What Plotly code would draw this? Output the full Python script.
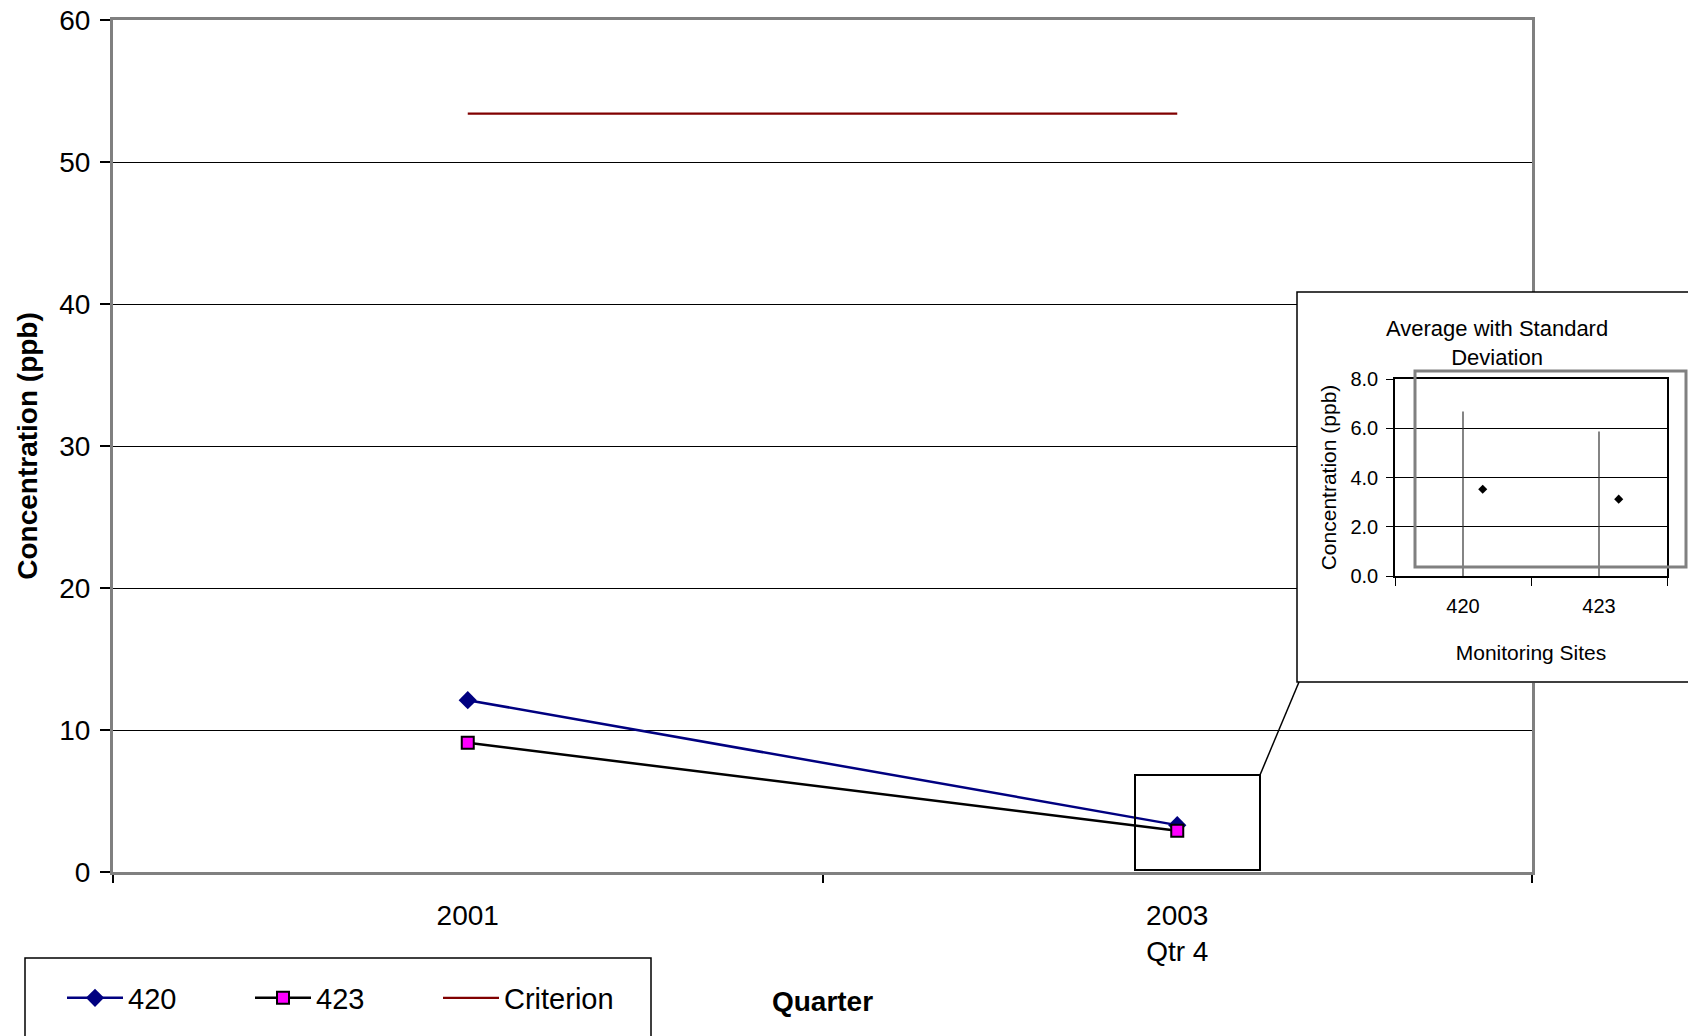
import plotly.graph_objects as go

# ---- data ----
quarters = ["2001", "2003<br>Qtr 4"]
site_420 = [12.1, 3.3]
site_423 = [9.1, 2.9]
criterion = [53.4, 53.4]

sites = ["420", "423"]
site_avg = [3.52, 3.12]
site_sd_up = [3.16, 2.75]
site_sd_down = [3.52, 3.12]

W, H = 1688, 1036
FONT = "Liberation Sans, Arial, sans-serif"


def fx(p):
    return p / W


def fy(p):
    return 1 - p / H


fig = go.Figure()

# main time series
fig.add_trace(go.Scatter(
    x=quarters, y=site_420, name="420", mode="lines+markers",
    line=dict(color="#000080", width=2.5),
    marker=dict(symbol="diamond", size=14, color="#000080"),
    xaxis="x", yaxis="y"))
fig.add_trace(go.Scatter(
    x=quarters, y=site_423, name="423", mode="lines+markers",
    line=dict(color="#000000", width=2.5),
    marker=dict(symbol="square", size=12, color="#FF00FF",
                line=dict(color="#000000", width=2)),
    xaxis="x", yaxis="y"))
fig.add_trace(go.Scatter(
    x=quarters, y=criterion, name="Criterion", mode="lines",
    line=dict(color="#800000", width=2.2),
    xaxis="x", yaxis="y"))

# white panel behind the inset chart
fig.add_trace(go.Scatter(x=[], y=[], showlegend=False, xaxis="x2", yaxis="y2"))

# inset: standard deviation bars at site centres
fig.add_trace(go.Scatter(
    x=sites, y=site_avg, mode="markers", showlegend=False,
    marker=dict(size=2, color="rgba(0,0,0,0)"),
    error_y=dict(type="data", symmetric=False, array=site_sd_up,
                 arrayminus=site_sd_down, width=0, thickness=1.2,
                 color="#333333"),
    xaxis="x3", yaxis="y3", hoverinfo="skip"))
# inset: averages, drawn just right of the bars
marker_offset = 0.145
fig.add_trace(go.Scatter(
    x=[i + marker_offset for i in range(len(sites))], y=site_avg,
    mode="markers", showlegend=False,
    marker=dict(symbol="diamond", size=7, color="#000000"),
    xaxis="x4", yaxis="y3"))

tick_font = dict(family=FONT, size=28, color="#000000")
inset_font = dict(family=FONT, size=20, color="#000000")
inset_title_font = dict(family=FONT, size=21, color="#000000")

fig.update_layout(
    width=W, height=H,
    margin=dict(l=0, r=0, t=0, b=0, autoexpand=False),
    paper_bgcolor="white", plot_bgcolor="white",
    font=dict(family=FONT, color="#000000"),
    xaxis=dict(
        domain=[fx(113), fx(1532)], anchor="y",
        type="category", range=[-0.5, 1.5], tickson="boundaries",
        ticks="outside", ticklen=8, tickcolor="#000000", tickwidth=1.5,
        tickfont=tick_font, ticklabelstandoff=16, showgrid=False,
        showline=True, mirror=True, linecolor="#808080", linewidth=3,
        title=dict(text="<b>Quarter</b>", font=dict(family=FONT, size=28),
                   standoff=26),
    ),
    yaxis=dict(
        domain=[fy(872), fy(20)], anchor="x",
        range=[0, 60], dtick=10, ticks="outside", ticklen=10,
        tickcolor="#000000", tickwidth=1.5, tickfont=tick_font,
        ticklabelstandoff=4,
        showgrid=True, gridcolor="#000000", gridwidth=1, zeroline=False,
        showline=True, mirror=True, linecolor="#808080", linewidth=3,
        title=dict(text="<b>Concentration (ppb)</b>",
                   font=dict(family=FONT, size=28), standoff=14),
    ),
    xaxis2=dict(domain=[fx(1297), 1.0], anchor="y2", range=[0, 1],
                showgrid=False, zeroline=False, showline=False,
                showticklabels=False, ticks="", fixedrange=True),
    yaxis2=dict(domain=[fy(683), fy(292)], anchor="x2", range=[0, 1],
                showgrid=False, zeroline=False, showline=False,
                showticklabels=False, ticks="", fixedrange=True),
    xaxis3=dict(
        domain=[fx(1395), fx(1667)], anchor="y3",
        type="category", range=[-0.5, 1.5], tickson="boundaries",
        ticks="outside", ticklen=8, tickcolor="#000000",
        tickfont=inset_font, ticklabelstandoff=11, showgrid=False,
        showline=True, mirror=True, linecolor="#000000", linewidth=1.5,
        title=dict(text="Monitoring Sites", font=inset_title_font,
                   standoff=30),
    ),
    xaxis4=dict(overlaying="x3", anchor="y3", range=[-0.5, 1.5],
                visible=False),
    yaxis3=dict(
        domain=[fy(576), fy(379)], anchor="x3",
        range=[0, 8], dtick=2, tickformat=".1f",
        ticks="outside", ticklen=7, tickcolor="#000000",
        tickfont=inset_font, ticklabelstandoff=4,
        showgrid=True, gridcolor="#000000",
        gridwidth=1, zeroline=False,
        showline=True, mirror=True, linecolor="#000000", linewidth=1.5,
        title=dict(text="Concentration (ppb)", font=inset_title_font,
                   standoff=8),
    ),
    legend=dict(
        orientation="h", x=fx(62), y=fy(998), xanchor="left",
        yanchor="middle", font=dict(family=FONT, size=29),
        bgcolor="rgba(0,0,0,0)", borderwidth=0,
        itemwidth=56, entrywidth=117, traceorder="normal",
    ),
    showlegend=True,
    annotations=[
        dict(text="Average with Standard<br>Deviation", xref="paper",
             yref="paper", x=fx(1497), y=fy(343), xanchor="center",
             yanchor="middle", showarrow=False,
             font=dict(family=FONT, size=22, color="#000000")),
    ],
    shapes=[
        # legend frame
        dict(type="rect", xref="paper", yref="paper",
             x0=fx(25), x1=fx(651), y0=fy(1040), y1=fy(958),
             line=dict(color="#000000", width=1.5), layer="above"),
        # zoom callout on the last quarter
        dict(type="rect", xref="paper", yref="paper",
             x0=fx(1135), x1=fx(1260), y0=fy(870), y1=fy(775),
             line=dict(color="#000000", width=2), layer="above"),
        dict(type="line", xref="paper", yref="paper",
             x0=fx(1260), y0=fy(775), x1=fx(1299), y1=fy(682),
             line=dict(color="#000000", width=1.5), layer="above"),
        # inset frame
        dict(type="rect", xref="paper", yref="paper",
             x0=fx(1297), x1=fx(1700), y0=fy(682), y1=fy(292),
             line=dict(color="#000000", width=1.5), layer="above"),
        # inset plot-area border
        dict(type="rect", xref="paper", yref="paper",
             x0=fx(1415), x1=fx(1686), y0=fy(567), y1=fy(371),
             line=dict(color="#808080", width=3), layer="above"),
    ],
)

fig.write_html("out.html")
